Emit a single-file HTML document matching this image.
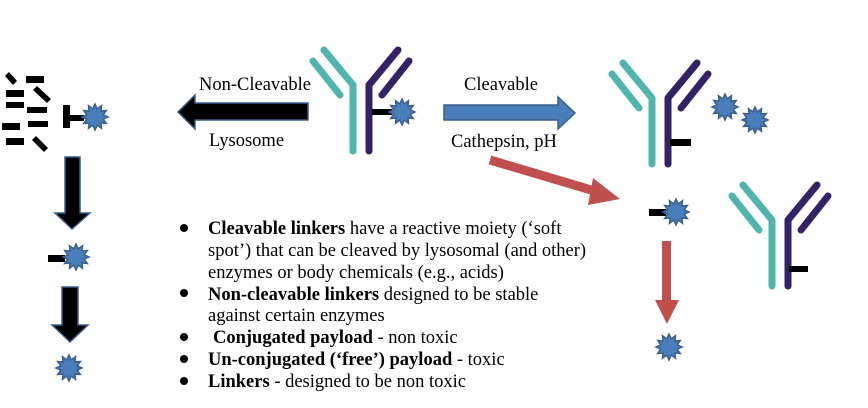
<!DOCTYPE html>
<html><head><meta charset="utf-8"><style>
html,body{margin:0;padding:0;background:#fff;}
svg{display:block;}
svg text{font-family:"Liberation Serif","Times New Roman",serif;}
</style></head><body>
<svg width="868" height="408" viewBox="0 0 868 408" xmlns="http://www.w3.org/2000/svg" font-family="Liberation Serif, serif">
<defs>
<polygon id="star" points="13,0 8.2,2.2 11.3,6.5 6,6 6.5,11.3 2.2,8.2 0,13 -2.2,8.2 -6.5,11.3 -6,6 -11.3,6.5 -8.2,2.2 -13,0 -8.2,-2.2 -11.3,-6.5 -6,-6 -6.5,-11.3 -2.2,-8.2 0,-13 2.2,-8.2 6.5,-11.3 6,-6 11.3,-6.5 8.2,-2.2" fill="#4a7ebb" stroke="#3a5f8f" stroke-width="1.5"/>
<g id="ab" fill="none" stroke-width="7" stroke-linecap="round" stroke-linejoin="round">
<path d="M-37,-35 L-8,0 L-8,66" stroke="#4fb5ad"/>
<path d="M-48,-24 L-21,10" stroke="#4fb5ad"/>
<path d="M37,-35 L8,0 L8,66" stroke="#332266"/>
<path d="M48,-24 L21,10" stroke="#332266"/>
</g>
</defs>

<g fill="#000">
<polygon points="5,76 9,72 17,81 13,85"/>
<rect x="26" y="76" width="18" height="7"/>
<polygon points="33,90 37,86 51,99 47,103"/>
<rect x="6" y="90" width="18" height="7"/>
<rect x="6" y="102" width="18" height="6"/>
<rect x="27" y="107" width="20" height="6"/>
<rect x="2" y="123" width="18" height="7"/>
<rect x="28" y="121" width="20" height="6"/>
<rect x="6" y="138" width="18" height="7"/>
<polygon points="32,140 36,136 48,148 44,152"/>
<rect x="63" y="105" width="7" height="23"/>
<rect x="70" y="115" width="14" height="6"/>
</g>
<use href="#star" x="95" y="117"/>

<polygon points="65,157 80,157 80,213 90,213 72,229 55,213 65,213" fill="#000" stroke="#3a5f8f" stroke-width="1.5"/>
<rect x="48" y="255" width="17" height="7" fill="#000"/>
<use href="#star" x="76" y="257"/>
<polygon points="62,287 78,287 78,325 88,325 70,342 52,325 62,325" fill="#000" stroke="#3a5f8f" stroke-width="1.5"/>
<use href="#star" x="69" y="368"/>

<use href="#ab" x="361" y="85"/>
<rect x="372" y="109" width="20" height="6" fill="#000"/>
<use href="#star" x="402" y="112"/>

<polygon points="308,103 195,103 195,95 178,112 195,129 195,120 308,120" fill="#000" stroke="#3a5f8f" stroke-width="1.5"/>
<g font-size="18.5" font-family="Liberation Serif, serif">
<text x="199" y="90">Non-Cleavable</text>
<text x="209" y="146">Lysosome</text>
<text x="464" y="90">Cleavable</text>
<text x="451" y="147">Cathepsin, pH</text>
</g>

<polygon points="444,105 558,105 558,97 575,113 558,129 558,120 444,120" fill="#4a7ebb" stroke="#3a5f8f" stroke-width="1.5"/>

<line x1="490" y1="160" x2="598" y2="192" stroke="#c0504d" stroke-width="9"/>
<polygon points="593,178 620,199 588,205" fill="#c0504d"/>

<use href="#ab" x="660" y="98"/>
<rect x="670" y="139" width="21" height="7" fill="#000"/>
<use href="#star" x="725" y="107"/>
<use href="#star" x="755" y="120"/>

<rect x="649" y="209" width="17" height="7" fill="#000"/>
<use href="#star" x="676" y="212"/>

<rect x="662" y="241" width="9" height="60" fill="#c0504d"/>
<polygon points="655,300 679,300 667,324" fill="#c0504d"/>
<use href="#star" x="669" y="347"/>

<use href="#ab" x="780" y="220"/>
<rect x="789" y="266" width="19" height="6" fill="#000"/>

<g font-size="18.5" fill="#000" font-family="Liberation Serif, serif">
<circle cx="184" cy="228" r="4"/>
<circle cx="184" cy="293" r="4"/>
<circle cx="184" cy="337" r="4"/>
<circle cx="184" cy="359" r="4"/>
<circle cx="184" cy="381" r="4"/>
<text x="208" y="234"><tspan font-weight="bold">Cleavable linkers</tspan> have a reactive moiety (‘soft</text>
<text x="208" y="256">spot’) that can be cleaved by lysosomal (and other)</text>
<text x="208" y="278">enzymes or body chemicals (e.g., acids)</text>
<text x="208" y="300"><tspan font-weight="bold">Non-cleavable linkers</tspan> designed to be stable</text>
<text x="208" y="321">against certain enzymes</text>
<text x="213" y="343"><tspan font-weight="bold">Conjugated payload</tspan> - non toxic</text>
<text x="208" y="365"><tspan font-weight="bold">Un-conjugated (‘free’) payload</tspan> - toxic</text>
<text x="208" y="387"><tspan font-weight="bold">Linkers</tspan> - designed to be non toxic</text>
</g>
</svg>
</body></html>
